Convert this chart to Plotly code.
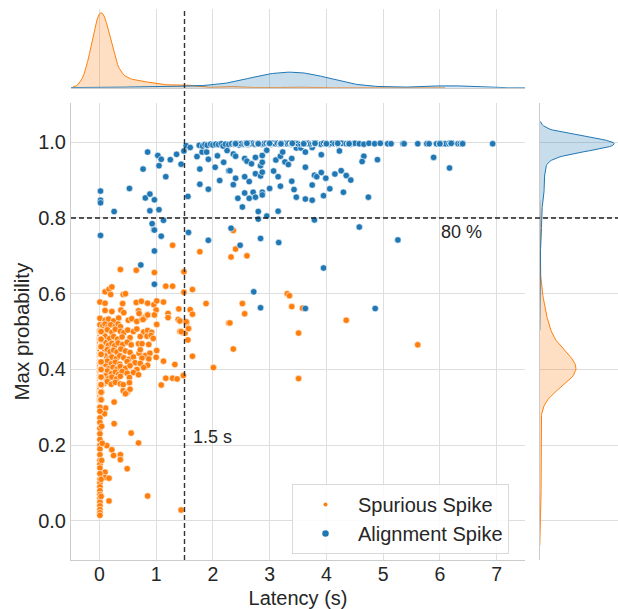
import numpy as np
import plotly.graph_objects as go

# ---------------- data (latency s, max probability) ----------------
SPURIOUS = [
    # upper band ~0.6
    (0.10, 0.605), (0.17, 0.612), (0.22, 0.618), (0.20, 0.598), (0.42, 0.598), (0.46, 0.600),
    (0.01, 0.578), (0.10, 0.575), (0.41, 0.574), (0.65, 0.577), (0.74, 0.580), (0.85, 0.575),
    (0.96, 0.571), (1.01, 0.581), (1.13, 0.578),
    (0.10, 0.556), (0.22, 0.553), (0.38, 0.557), (0.43, 0.550), (0.69, 0.555), (0.85, 0.545),
    (1.00, 0.557), (1.21, 0.548),
    (0.01, 0.535), (0.10, 0.530), (0.16, 0.533), (0.25, 0.528), (0.34, 0.536), (0.51, 0.530),
    (0.57, 0.534), (0.66, 0.527), (0.75, 0.532), (0.80, 0.537), (1.21, 0.537), (1.39, 0.532),
    (1.42, 0.528),
    (0.01, 0.518), (0.06, 0.515), (0.10, 0.520), (0.15, 0.512), (0.20, 0.518), (0.28, 0.514),
    (0.33, 0.520), (0.37, 0.513), (1.01, 0.519), (1.54, 0.523), (1.57, 0.508),
    (0.01, 0.503), (0.08, 0.500), (0.14, 0.505), (0.22, 0.498), (0.28, 0.506), (0.37, 0.501),
    (0.43, 0.497), (0.50, 0.504), (0.60, 0.500), (0.66, 0.507), (0.78, 0.499), (0.85, 0.503),
    (0.92, 0.498), (1.42, 0.500), (1.47, 0.497), (1.51, 0.496),
    (0.01, 0.486), (0.05, 0.483), (0.10, 0.488), (0.18, 0.482), (0.25, 0.487), (0.32, 0.480),
    (0.40, 0.486), (0.54, 0.484), (0.72, 0.487), (0.84, 0.488), (0.91, 0.490), (0.95, 0.482),
    (1.56, 0.478),
    (0.01, 0.470), (0.06, 0.466), (0.10, 0.471), (0.16, 0.464), (0.22, 0.469), (0.27, 0.463),
    (0.33, 0.470), (0.41, 0.466), (0.49, 0.472), (0.56, 0.465), (0.69, 0.468), (0.75, 0.468),
    (0.87, 0.466),
    (0.01, 0.452), (0.08, 0.448), (0.14, 0.453), (0.19, 0.447), (0.25, 0.451), (0.31, 0.446),
    (0.38, 0.454), (0.46, 0.449), (0.54, 0.445), (0.70, 0.443), (0.72, 0.452), (0.81, 0.437),
    (0.89, 0.443), (1.01, 0.450), (1.64, 0.435),
    (0.01, 0.434), (0.05, 0.430), (0.10, 0.436), (0.16, 0.428), (0.22, 0.433), (0.30, 0.429),
    (0.36, 0.436), (0.43, 0.431), (0.52, 0.427), (0.60, 0.433), (0.75, 0.430), (0.87, 0.428),
    (1.00, 0.432), (1.13, 0.422),
    (0.01, 0.420), (0.08, 0.417), (0.14, 0.422), (0.21, 0.415), (0.28, 0.419), (0.36, 0.414),
    (0.49, 0.421), (0.63, 0.418), (0.72, 0.416), (0.85, 0.411), (1.33, 0.413), (2.01, 0.405),
    (0.01, 0.407), (0.06, 0.404), (0.11, 0.409), (0.16, 0.402), (0.24, 0.406), (0.31, 0.401),
    (0.37, 0.408), (0.46, 0.403), (0.54, 0.410), (0.66, 0.400), (0.78, 0.405),
    (0.01, 0.394), (0.08, 0.391), (0.14, 0.396), (0.21, 0.389), (0.28, 0.393), (0.34, 0.387),
    (0.40, 0.395), (0.49, 0.390), (0.60, 0.392), (0.69, 0.386),
    (0.01, 0.381), (0.06, 0.378), (0.11, 0.383), (0.16, 0.376), (0.22, 0.380), (0.30, 0.375),
    (0.37, 0.382), (0.53, 0.379), (1.17, 0.377), (1.29, 0.377), (1.37, 0.375), (1.48, 0.384),
    (0.01, 0.367), (0.08, 0.363), (0.14, 0.368), (0.21, 0.361), (0.28, 0.366), (0.37, 0.362),
    (0.42, 0.360), (0.53, 0.365), (1.09, 0.359),
    (0.01, 0.348), (0.42, 0.344), (0.49, 0.340), (0.54, 0.348), (0.46, 0.336),
    # lower tail
    (0.01, 0.330), (0.26, 0.314), (0.01, 0.318), (0.11, 0.298), (0.09, 0.283), (0.26, 0.257),
    (0.56, 0.232), (0.69, 0.206), (0.13, 0.199), (0.22, 0.188), (0.25, 0.173), (0.37, 0.175),
    (0.37, 0.162), (0.49, 0.138), (0.10, 0.129), (0.10, 0.115), (0.17, 0.113), (0.17, 0.053),
    (0.85, 0.066), (1.44, 0.029),
    (0.01, 0.300), (0.01, 0.290), (0.01, 0.272), (0.01, 0.260), (0.01, 0.245), (0.01, 0.230),
    (0.01, 0.215), (0.01, 0.200), (0.01, 0.190), (0.01, 0.175), (0.01, 0.160), (0.01, 0.150),
    (0.01, 0.140), (0.01, 0.125), (0.01, 0.110), (0.01, 0.100), (0.01, 0.090), (0.01, 0.080),
    (0.01, 0.070), (0.01, 0.060), (0.01, 0.050), (0.01, 0.040), (0.01, 0.030), (0.01, 0.022),
    (0.01, 0.015), (0.03, 0.065), (0.04, 0.160), (0.05, 0.205), (0.03, 0.110), (0.04, 0.250),
    # scattered upper / right
    (0.37, 0.664), (0.65, 0.662), (0.97, 0.656), (1.49, 0.658), (1.17, 0.620), (1.29, 0.620),
    (1.64, 0.611), (1.49, 0.604), (1.29, 0.728), (1.77, 0.711), (2.40, 0.718), (2.32, 0.697),
    (2.36, 0.767), (2.60, 0.700), (1.60, 0.558), (1.88, 0.574), (1.40, 0.560), (2.28, 0.523),
    (1.53, 0.526), (2.52, 0.574), (2.56, 0.547), (2.30, 0.523), (2.36, 0.454), (3.31, 0.600),
    (3.35, 0.595), (3.39, 0.566), (3.58, 0.562), (3.51, 0.496), (4.35, 0.530), (5.61, 0.465),
    (3.51, 0.376), (1.21, 0.537), (1.64, 0.546), (1.57, 0.508), (1.44, 0.500), (0.85, 0.544),
    (0.97, 0.544), (0.77, 0.532), (0.70, 0.548),
]

# overlapping spurious spikes in the zero-latency column: (latency, probability, count)
SPURIOUS_STACKED = [
    (0.01, 0.32, 4), (0.02, 0.32, 3), (0.03, 0.32, 3),
    (0.01, 0.34, 9), (0.02, 0.34, 8), (0.03, 0.34, 8),
    (0.01, 0.36, 17), (0.02, 0.36, 17), (0.03, 0.36, 16),
    (0.01, 0.38, 26), (0.02, 0.38, 25), (0.03, 0.38, 24),
    (0.01, 0.40, 30), (0.02, 0.40, 29), (0.03, 0.40, 28),
    (0.01, 0.42, 26), (0.02, 0.42, 25), (0.03, 0.42, 24),
    (0.01, 0.44, 19), (0.02, 0.44, 18), (0.03, 0.44, 18),
    (0.01, 0.46, 10), (0.02, 0.46, 10), (0.03, 0.46, 10),
    (0.01, 0.48, 5), (0.02, 0.48, 5), (0.03, 0.48, 5),
    (0.01, 0.50, 3), (0.02, 0.50, 3), (0.03, 0.50, 2),
]

ALIGNMENT = [
    (0.02, 0.871), (0.02, 0.847), (0.02, 0.840), (0.26, 0.817), (0.53, 0.878), (0.77, 0.929),
    (0.85, 0.974), (0.81, 0.853), (0.89, 0.863), (0.97, 0.848), (0.89, 0.819), (1.05, 0.822),
    (0.93, 0.785), (0.96, 0.769), (1.13, 0.794), (1.03, 0.965), (1.05, 0.938), (1.09, 0.955),
    (1.17, 0.909), (1.25, 0.954), (1.36, 0.968), (1.44, 0.942), (1.49, 0.977), (1.56, 0.857),
    (1.72, 0.962), (1.81, 0.974), (1.89, 0.974), (1.92, 0.955), (1.77, 0.929), (1.77, 0.889),
    (1.92, 0.876), (2.08, 0.964), (2.04, 0.934), (2.12, 0.899), (2.19, 0.947), (2.28, 0.925),
    (2.25, 0.978), (2.36, 0.969), (2.40, 0.963), (2.36, 0.888), (2.40, 0.905), (2.44, 0.852),
    (2.30, 0.925), (2.52, 0.829), (2.56, 0.957), (2.60, 0.950), (2.68, 0.943), (2.75, 0.960),
    (2.56, 0.909), (2.64, 0.896), (2.75, 0.917), (2.84, 0.938), (2.87, 0.947), (2.87, 0.965),
    (2.84, 0.911), (2.87, 0.921), (2.56, 0.866), (2.64, 0.852), (2.71, 0.868), (2.75, 0.855),
    (2.87, 0.868), (2.87, 0.861), (3.00, 0.878), (2.80, 0.817), (2.80, 0.797), (2.95, 0.805),
    (2.95, 0.979), (3.07, 0.924), (3.11, 0.953), (3.15, 0.909), (3.19, 0.963), (3.23, 0.974),
    (3.27, 0.948), (3.33, 0.941), (3.39, 0.957), (3.19, 0.884), (3.39, 0.897), (3.43, 0.875),
    (3.47, 0.855), (3.15, 0.818), (3.47, 0.985), (3.55, 0.985), (3.63, 0.974), (3.63, 0.934),
    (3.75, 0.986), (3.75, 0.887), (3.63, 0.850), (3.75, 0.847), (3.79, 0.913), (3.83, 0.909),
    (3.91, 0.967), (3.91, 0.920), (3.99, 0.905), (4.06, 0.877), (3.95, 0.859), (3.79, 0.795),
    (4.15, 0.916), (4.23, 0.977), (4.26, 0.925), (4.35, 0.912), (4.43, 0.900), (4.30, 0.868),
    (4.58, 0.776), (4.66, 0.963), (4.63, 0.949), (4.74, 0.855), (4.90, 0.954),
    (5.89, 0.960), (6.17, 0.932),
    # below the 80 % line
    (0.02, 0.754), (0.97, 0.768), (1.09, 0.752), (0.97, 0.713), (0.73, 0.676), (0.97, 0.625),
    (1.57, 0.762), (1.92, 0.741), (2.32, 0.773), (2.48, 0.728), (2.84, 0.746), (3.16, 0.735),
    (5.26, 0.742), (3.95, 0.668), (2.72, 0.605), (2.84, 0.563), (3.63, 0.561), (4.86, 0.561),
    # top row (~1.0)
    (1.53, 0.991), (1.60, 0.986), (1.76, 0.992), (1.82, 0.990), (1.86, 0.994), (1.90, 0.992),
    (1.96, 0.995), (2.00, 0.993), (2.05, 0.995), (2.10, 0.994), (2.15, 0.996), (2.18, 0.990),
    (2.22, 0.995), (2.28, 0.994), (2.33, 0.996), (2.38, 0.995), (2.42, 0.997), (2.46, 0.993),
    (2.50, 0.996), (2.55, 0.995), (2.58, 0.997), (2.62, 0.994), (2.66, 0.996), (2.70, 0.997),
    (2.74, 0.995), (2.78, 0.996), (2.82, 0.997), (2.86, 0.995), (2.90, 0.996), (2.94, 0.997),
    (2.98, 0.996), (3.02, 0.995), (3.06, 0.997), (3.10, 0.996), (3.14, 0.997), (3.18, 0.995),
    (3.22, 0.996), (3.26, 0.997), (3.30, 0.996), (3.34, 0.997), (3.38, 0.995), (3.42, 0.996),
    (3.46, 0.997), (3.50, 0.996), (3.55, 0.995), (3.60, 0.997), (3.64, 0.996), (3.68, 0.997),
    (3.72, 0.995), (3.76, 0.996), (3.80, 0.997), (3.85, 0.996), (3.90, 0.995), (3.95, 0.997),
    (4.00, 0.996), (4.05, 0.995), (4.10, 0.997), (4.15, 0.996), (4.20, 0.995), (4.27, 0.997),
    (4.35, 0.996), (4.42, 0.995), (4.50, 0.997), (4.58, 0.996), (4.66, 0.995), (4.75, 0.997),
    (4.85, 0.996), (4.95, 0.997), (5.08, 0.996), (5.14, 0.996), (5.35, 0.996), (5.37, 0.996),
    (5.61, 0.996), (5.77, 0.996), (5.81, 0.996), (5.94, 0.996), (6.00, 0.996), (6.04, 0.996),
    (6.10, 0.996), (6.16, 0.996), (6.21, 0.996), (6.32, 0.996), (6.36, 0.996), (6.40, 0.996),
    (6.93, 0.996),
]

# overlapping alignment spikes hidden in the ~1.0 row: (latency, probability, count)
ALIGNMENT_STACKED = [
    (2.4, 0.996, 8), (2.6, 0.997, 16), (2.8, 0.996, 28), (3.0, 0.997, 38),
    (3.2, 0.996, 46), (3.4, 0.997, 50), (3.6, 0.996, 46), (3.8, 0.997, 38),
    (4.0, 0.996, 28), (4.2, 0.997, 16), (4.4, 0.996, 8),
    (6.0, 0.996, 6), (6.2, 0.997, 8), (6.4, 0.996, 6),
]

SERIES_NAMES = ["Spurious Spike", "Alignment Spike"]
X_TICKS = [0, 1, 2, 3, 4, 5, 6, 7]
Y_TICKS = [0.0, 0.2, 0.4, 0.6, 0.8, 1.0]
LATENCY_THRESHOLD = 1.5
PROB_THRESHOLD = 0.8
LATENCY_LABEL = "1.5 s"
PROB_LABEL = "80 %"

# ---------------- styling ----------------
ORANGE = "#ff7f0e"
BLUE = "#1f77b4"
FILLS = {ORANGE: "rgba(255,127,14,0.25)", BLUE: "rgba(31,119,180,0.25)"}
FONT = "Arial, Liberation Sans, sans-serif"
TXT = "#262626"
GRID = "#dedede"
SPINE = "#cccccc"


def expand(points, stacked):
    xs = [p[0] for p in points] + [s[0] for s in stacked for _ in range(s[2])]
    ys = [p[1] for p in points] + [s[1] for s in stacked for _ in range(s[2])]
    return np.array(xs, float), np.array(ys, float)


sx, sy = expand(SPURIOUS, SPURIOUS_STACKED)
bx, by = expand(ALIGNMENT, ALIGNMENT_STACKED)
n_total = len(sx) + len(bx)


def kde(vals, weight):
    bw = vals.std(ddof=1) * len(vals) ** (-1 / 5)
    grid = np.linspace(vals.min() - 3 * bw, vals.max() + 3 * bw, 200)
    dens = np.exp(-0.5 * ((grid[:, None] - vals[None, :]) / bw) ** 2).sum(1)
    dens = dens / (len(vals) * bw * np.sqrt(2 * np.pi)) * weight
    return grid, dens


fig = go.Figure()

groups = [(SERIES_NAMES[0], sx, sy, ORANGE), (SERIES_NAMES[1], bx, by, BLUE)]
max_top = 0
max_right = 0
for name, gx, gy, col in groups:
    w = len(gx) / n_total
    g, d = kde(gx, w)
    max_top = max(max_top, d.max())
    fig.add_trace(go.Scatter(x=g, y=d, xaxis="x3", yaxis="y2", mode="lines",
                             line=dict(color=col, width=1), fill="tozeroy",
                             fillcolor=FILLS[col], showlegend=False, hoverinfo="skip"))
    g, d = kde(gy, w)
    max_right = max(max_right, d.max())
    fig.add_trace(go.Scatter(x=d, y=g, xaxis="x2", yaxis="y3", mode="lines",
                             line=dict(color=col, width=1), fill="tozerox",
                             fillcolor=FILLS[col], showlegend=False, hoverinfo="skip"))

for name, gx, gy, col in groups:
    fig.add_trace(go.Scatter(x=gx, y=gy, mode="markers", xaxis="x", yaxis="y",
                             marker=dict(color=col, size=6.5, line=dict(color="white", width=0.6)),
                             showlegend=False, name=name))

# legend proxies (seaborn legend shows different marker sizes)
fig.add_trace(go.Scatter(x=[None], y=[None], mode="markers", name=SERIES_NAMES[0],
                         marker=dict(color=ORANGE, size=4)))
fig.add_trace(go.Scatter(x=[None], y=[None], mode="markers", name=SERIES_NAMES[1],
                         marker=dict(color=BLUE, size=6.5)))

XR = [-0.5, 7.5]
YR = [-0.103, 1.103]
DX_MAIN = [0, 0.830]
DX_RIGHT = [0.857, 1.0]
DY_MAIN = [0, 0.829]
DY_TOP = [0.857, 1.0]

fig.update_layout(
    width=618, height=609,
    margin=dict(l=71, r=0, t=9, b=49),
    paper_bgcolor="white", plot_bgcolor="white",
    font=dict(family=FONT, color=TXT, size=20),
    xaxis=dict(domain=DX_MAIN, range=XR, anchor="y", tickvals=X_TICKS,
               showgrid=True, gridcolor=GRID, gridwidth=1, zeroline=False,
               showline=True, linecolor=SPINE, linewidth=1, ticks="", ticklabelstandoff=-3,
               tickfont=dict(size=19.5), title=dict(text="Latency (s)", font=dict(size=20), standoff=7)),
    yaxis=dict(domain=DY_MAIN, range=YR, anchor="x", tickvals=Y_TICKS, tickformat=".1f",
               showgrid=True, gridcolor=GRID, gridwidth=1, zeroline=False,
               showline=True, linecolor=SPINE, linewidth=1, ticks="",
               tickfont=dict(size=20), title=dict(text="Max probability", font=dict(size=20.5), standoff=3)),
    xaxis3=dict(domain=DX_MAIN, range=XR, matches="x", anchor="y2", tickvals=X_TICKS,
                showticklabels=False, showgrid=True, gridcolor=GRID, zeroline=False,
                showline=True, linecolor=SPINE, ticks=""),
    yaxis2=dict(domain=DY_TOP, range=[0, max_top * 1.05], anchor="x3",
                showticklabels=False, showgrid=False, zeroline=False, showline=False, ticks=""),
    xaxis2=dict(domain=DX_RIGHT, range=[0, max_right * 1.05], anchor="y3",
                showticklabels=False, showgrid=False, zeroline=False, showline=False, ticks=""),
    yaxis3=dict(domain=DY_MAIN, range=YR, matches="y", anchor="x2", tickvals=Y_TICKS,
                showticklabels=False, showgrid=True, gridcolor=GRID, zeroline=False,
                showline=True, linecolor=SPINE, ticks=""),
    legend=dict(x=0.404, y=0.138, xanchor="left", yanchor="top",
                bgcolor="rgba(255,255,255,0.85)", bordercolor="#d9d9d9", borderwidth=1,
                font=dict(size=20, color=TXT), itemwidth=55, tracegroupgap=0),
    shapes=[
        dict(type="line", xref="x", yref="paper", x0=LATENCY_THRESHOLD, x1=LATENCY_THRESHOLD,
             y0=0, y1=1, line=dict(color="#333333", width=1.4, dash="5px,3px")),
        dict(type="line", xref="paper", yref="y", x0=0, x1=1,
             y0=PROB_THRESHOLD, y1=PROB_THRESHOLD, line=dict(color="#222222", width=1.4, dash="5px,3px")),
    ],
    annotations=[
        dict(x=5.98, y=0.763, xref="x", yref="y", text=PROB_LABEL, showarrow=False,
             xanchor="left", yanchor="middle", font=dict(size=18, color=TXT)),
        dict(x=1.61, y=0.221, xref="x", yref="y", text=LATENCY_LABEL, showarrow=False,
             xanchor="left", yanchor="middle", font=dict(size=18, color=TXT)),
    ],
)

fig.write_html("out.html")
